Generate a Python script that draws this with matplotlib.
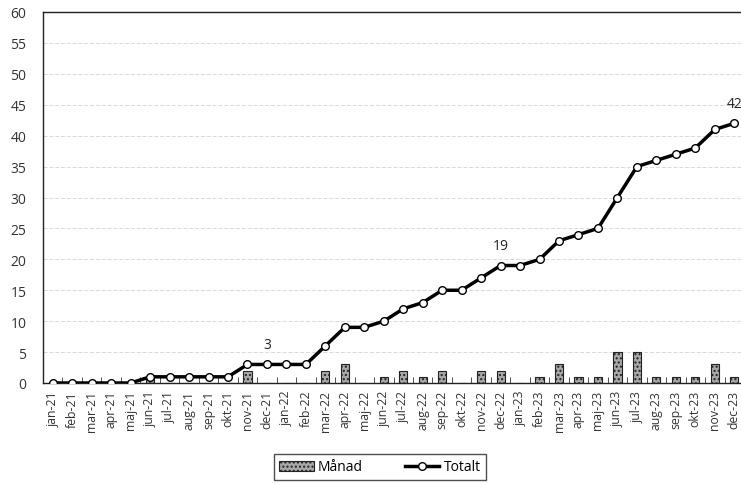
import numpy as np
import matplotlib.pyplot as plt

plt.rcParams['font.family'] = ['Open Sans', 'DejaVu Sans']

months = ['jan', 'feb', 'mar', 'apr', 'maj', 'jun', 'jul', 'aug', 'sep', 'okt', 'nov', 'dec']
years = ['21', '22', '23']
labels = [m + '-' + y for y in years for m in months]

manad = [0, 0, 0, 0, 0, 1, 0, 0, 0, 0, 2, 0,
         0, 0, 2, 3, 0, 1, 2, 1, 2, 0, 2, 2,
         0, 1, 3, 1, 1, 5, 5, 1, 1, 1, 3, 1]
totalt = [0, 0, 0, 0, 0, 1, 1, 1, 1, 1, 3, 3,
          3, 3, 6, 9, 9, 10, 12, 13, 15, 15, 17, 19,
          19, 20, 23, 24, 25, 30, 35, 36, 37, 38, 41, 42]
annot_idx = [11, 23, 35]

x = np.arange(len(labels))

fig = plt.figure(figsize=(7.41, 4.85), dpi=100)
ax = fig.add_axes([43/741, 101/485, 701/741, 371/485])

bars = ax.bar(x, manad, width=0.42, color='#a8a8a8', edgecolor='#222222', linewidth=0.8,
              hatch='....', label='Månad', zorder=2)
line, = ax.plot(x, totalt, color='black', linewidth=2.5, marker='o', markersize=5.5,
                markerfacecolor='white', markeredgecolor='black', markeredgewidth=1,
                label='Totalt', zorder=3)

for i in annot_idx:
    ax.annotate(str(totalt[i]), (x[i], totalt[i]), xytext=(0, 9), textcoords='offset points',
                ha='center', va='bottom', fontsize=10, color='#222222')

ax.set_xlim(-0.5, len(labels) - 0.5)
ax.set_ylim(0, 60)
ax.set_yticks(range(0, 61, 5))
ax.yaxis.grid(True, linestyle=(0, (4, 2)), color='#d9d9d9', linewidth=0.7, zorder=0)
ax.set_axisbelow(True)

ax.set_xticks(x)
ax.set_xticklabels(labels, rotation=90, fontsize=8.8, color='#333333')
ax.set_xticks(np.arange(-0.5, len(labels), 1), minor=True)
ax.tick_params(axis='x', which='major', length=0, pad=5)
ax.tick_params(axis='x', which='minor', length=4, direction='in', color='#333333')
ax.tick_params(axis='y', length=0, labelsize=10, labelcolor='#333333', pad=12)

for s in ['left', 'top', 'bottom']:
    ax.spines[s].set_color('#222222')
    ax.spines[s].set_linewidth(1)
ax.spines['right'].set_visible(False)

leg = fig.legend([bars, line], ['Månad', 'Totalt'], loc='center',
                 bbox_to_anchor=(380/741, 1 - 468/485), ncol=2, fontsize=10,
                 frameon=True, fancybox=False, edgecolor='#222222', handlelength=2.5,
                 columnspacing=3, borderpad=0.4, handletextpad=0.3)
leg.get_frame().set_linewidth(1)

fig.savefig('out.png', dpi=100)
